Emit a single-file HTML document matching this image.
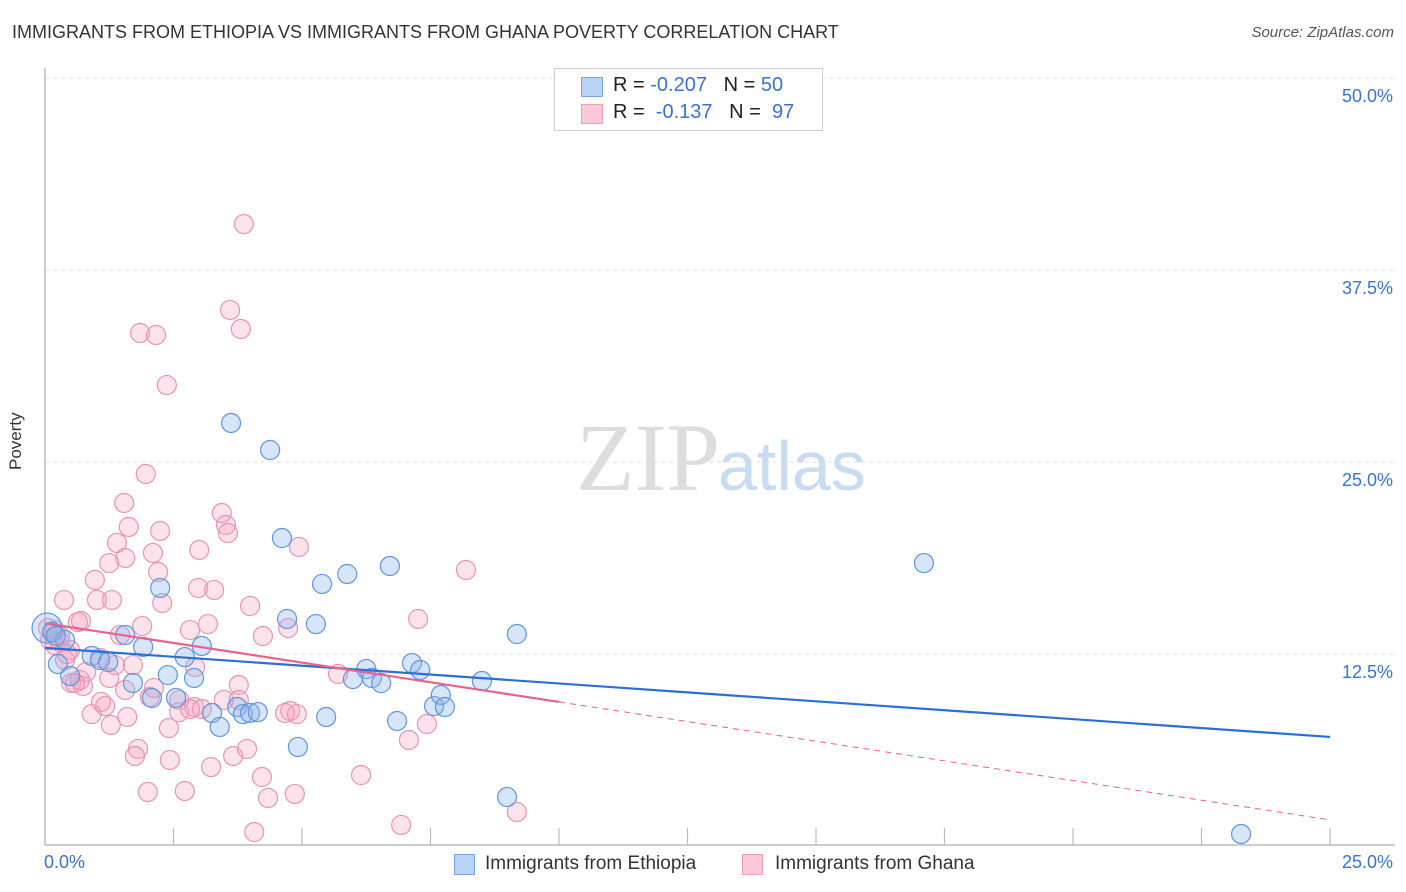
<!DOCTYPE html>
<html><head><meta charset="utf-8"><style>
body{margin:0;background:#fff;font-family:"Liberation Sans",sans-serif;}
#wrap{position:relative;width:1406px;height:892px;overflow:hidden;}
.t{position:absolute;white-space:nowrap;}
</style></head><body>
<div id="wrap">
<div class="t" style="left:12px;top:22px;font-size:18px;color:#333;">IMMIGRANTS FROM ETHIOPIA VS IMMIGRANTS FROM GHANA POVERTY CORRELATION CHART</div>
<div class="t" style="right:12px;top:24px;font-size:15px;color:#555;font-style:italic;">Source: ZipAtlas.com</div>
<div class="t" style="left:6px;top:470px;font-size:17px;color:#333;transform:rotate(-90deg);transform-origin:left top;">Poverty</div>
<svg id="plot" width="1406" height="892" style="position:absolute;left:0;top:0">
<text x="720" y="490" text-anchor="end" font-family="Liberation Serif,serif" font-size="96" fill="#ddd">ZIP</text>
<text x="718" y="490" font-family="Liberation Sans,sans-serif" font-size="70" fill="#c9dbf0">atlas</text>
</svg>
<div style="position:absolute;left:554px;top:68px;width:267px;height:61px;border:1px solid #ccc;background:#fff;">
<div style="position:absolute;left:26px;top:8px;width:20px;height:18px;background:#b9d3f5;border:1px solid #7aa5e0;"></div>
<div class="t" style="left:58px;top:5px;font-size:20px;color:#222;">R = <span style="color:#3b72d0">-0.207</span>&nbsp;&nbsp;&nbsp;N = <span style="color:#3b72d0">50</span></div>
<div style="position:absolute;left:26px;top:35px;width:20px;height:18px;background:#fac8d8;border:1px solid #eaa0ba;"></div>
<div class="t" style="left:58px;top:32px;font-size:20px;color:#222;">R = &nbsp;<span style="color:#3b72d0">-0.137</span>&nbsp;&nbsp;&nbsp;N = &nbsp;<span style="color:#3b72d0">97</span></div>
</div>
<div>
<div style="position:absolute;left:454px;top:854px;width:19px;height:19px;background:#b9d3f5;border:1px solid #7aa5e0;"></div>
<div class="t" style="left:485px;top:853px;font-size:19px;color:#333;">Immigrants from Ethiopia</div>
<div style="position:absolute;left:742px;top:854px;width:19px;height:19px;background:#fac8d8;border:1px solid #eaa0ba;"></div>
<div class="t" style="left:775px;top:853px;font-size:19px;color:#333;">Immigrants from Ghana</div>
</div>
</div>
<script>
const xTickLabels=["0.0%","25.0%"];
const yTicks=[12.5,25,37.5,50];
const yTickLabels=["12.5%","25.0%","37.5%","50.0%"];
const ethX=[0.04,0.14,0.25,0.39,0.49,0.91,1.07,1.23,1.56,1.71,1.91,2.08,2.24,2.39,2.55,2.72,2.90,3.05,3.25,3.40,3.62,3.74,3.85,3.99,4.14,4.38,4.61,4.71,4.92,5.27,5.39,5.47,5.88,5.99,6.25,6.36,6.54,6.71,6.85,7.14,7.30,7.57,7.70,7.78,8.50,8.99,9.18,17.10,23.27,0.21];
const ethY=[14.19,13.93,11.85,13.41,11.07,12.37,12.11,11.98,13.74,10.61,12.96,9.64,16.80,11.13,9.64,12.30,10.94,13.02,8.66,7.75,27.54,9.05,8.59,8.66,8.72,25.78,20.05,14.78,6.45,14.45,17.06,8.40,17.71,10.87,11.52,10.94,10.61,18.23,8.14,11.91,11.46,9.11,9.83,9.05,10.74,3.19,13.80,18.42,0.78,13.67];
const ghaX=[3.87,3.60,3.81,1.85,2.16,2.37,1.96,1.54,3.44,1.63,2.24,3.52,3.56,1.40,3.00,4.94,2.10,1.56,1.25,2.20,8.19,0.97,2.98,3.29,0.37,1.01,1.30,2.28,3.99,7.26,0.70,3.17,4.73,1.89,2.82,4.24,1.46,0.19,0.06,0.29,0.49,1.07,0.39,2.92,1.71,1.36,0.80,1.25,0.51,0.74,2.12,3.77,3.48,3.77,2.61,2.90,3.05,1.09,1.17,4.77,4.90,4.67,7.43,0.91,1.60,2.61,1.28,2.41,1.81,1.75,3.23,3.66,3.93,4.22,6.15,7.08,5.70,2.82,4.34,4.86,2.00,2.72,4.07,6.93,9.18,0.68,0.58,0.29,0.64,2.04,2.43,0.43,0.19,0.10,1.56];
const ghaY=[40.49,34.90,33.66,33.40,33.27,30.01,24.22,22.33,21.68,20.77,20.51,20.90,20.38,19.73,19.27,19.47,19.08,18.75,18.42,17.84,17.97,17.32,16.80,16.67,16.02,16.02,16.02,15.82,15.63,14.78,14.65,14.45,14.19,14.32,14.06,13.67,13.74,14.06,14.19,13.67,12.76,12.24,12.11,11.65,11.78,11.78,11.33,10.94,10.61,10.42,10.29,10.48,9.51,9.51,9.51,9.05,8.92,9.38,9.11,8.79,8.59,8.66,7.94,8.59,8.40,8.72,7.88,7.68,6.32,5.86,5.14,5.86,6.32,4.49,4.62,6.90,11.20,8.92,3.13,3.39,3.52,3.58,0.91,1.37,2.21,10.81,10.61,13.28,14.58,9.70,5.60,12.50,13.09,13.41,10.16];
const ethTrend=[12.9,7.1];
const ghaTrend=[14.5,1.7];
const ghaSolidEnd=10.0;

const X0=45,X1=1330,Y0=846,Y50=78;
function sx(v){return X0+(X1-X0)*v/25;}
function sy(v){return Y0-(Y0-Y50)*v/50;}
const NS="http://www.w3.org/2000/svg";
const svg=document.getElementById('plot');
const wrap=document.getElementById('wrap');
function mk(tag,attrs){const e=document.createElementNS(NS,tag);for(const k in attrs)e.setAttribute(k,attrs[k]);svg.appendChild(e);return e;}
yTicks.forEach((v,i)=>{
  const g=mk('line',{x1:45,x2:1395,y1:sy(v),y2:sy(v),stroke:'#ddd','stroke-dasharray':'4,4','stroke-width':1});
  
  
  const d=document.createElement('div');d.className='t';
  d.style.cssText='right:13px;top:'+(sy(v)+8)+'px;font-size:18px;color:#3b72d0;';
  d.textContent=yTickLabels[i];
  
  
  wrap.appendChild(d);
});
const ax=mk('line',{x1:45,x2:45,y1:68,y2:845,stroke:'#bbb','stroke-width':1.5});


const bx=mk('line',{x1:45,x2:1395,y1:845,y2:845,stroke:'#bbb','stroke-width':1.5});


for(let i=1;i<=10;i++){const t=mk('line',{x1:sx(i*2.5),x2:sx(i*2.5),y1:828,y2:845,stroke:'#bbb','stroke-width':1.2});

}
[[0,'left:44px'],[1,'right:13px']].forEach(([i,pos])=>{const d=document.createElement('div');d.className='t';d.style.cssText=pos+';top:852px;font-size:18px;color:#3b72d0;';d.textContent=xTickLabels[i];


wrap.appendChild(d);});
ghaX.forEach((x,i)=>{const c=mk('circle',{cx:sx(x),cy:sy(ghaY[i]),r:9.5,fill:'rgba(244,160,188,0.3)',stroke:'#e995b2','stroke-width':1.2});

});
ethX.forEach((x,i)=>{const c=mk('circle',{cx:sx(x),cy:sy(ethY[i]),r:i==0?15:9.5,fill:'rgba(140,180,235,0.35)',stroke:'#6095dc','stroke-width':1.2});

});
const et=mk('line',{x1:sx(0),y1:sy(ethTrend[0]),x2:sx(25),y2:sy(ethTrend[1]),stroke:'#2a6fd6','stroke-width':2.2});


const gm=ghaTrend[0]+(ghaTrend[1]-ghaTrend[0])*ghaSolidEnd/25;
const gt=mk('line',{x1:sx(0),y1:sy(ghaTrend[0]),x2:sx(ghaSolidEnd),y2:sy(gm),stroke:'#e8628f','stroke-width':2.2});


const gd=mk('line',{x1:sx(ghaSolidEnd),y1:sy(gm),x2:sx(25),y2:sy(ghaTrend[1]),stroke:'#e8628f','stroke-width':1,'stroke-dasharray':'6,5'});


</script>
</body></html>
